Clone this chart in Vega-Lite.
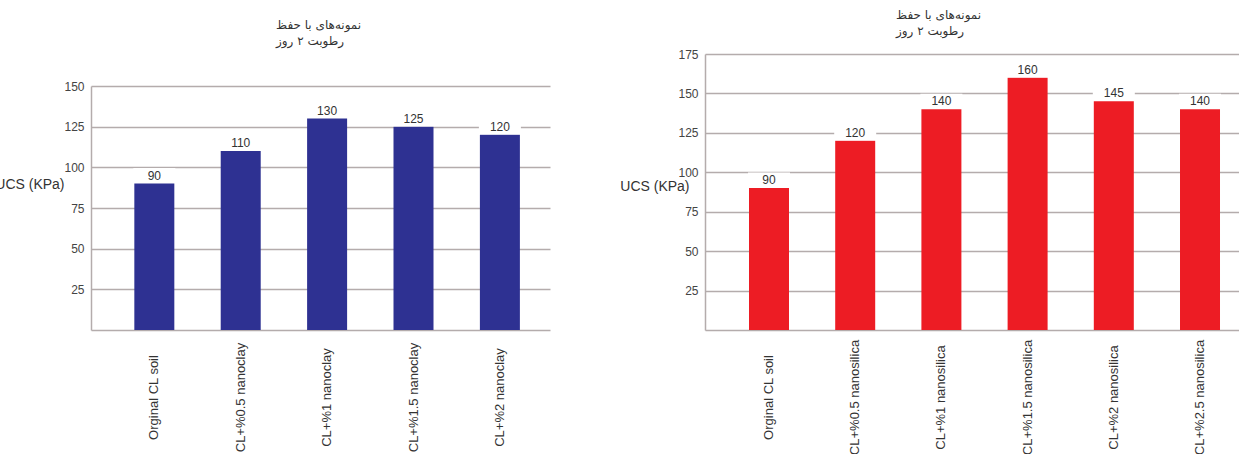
{
  "$schema": "https://vega.github.io/schema/vega-lite/v6.json",
  "background": "white",
  "autosize": {"type": "pad"},
  "padding": {"left": -6, "top": 9, "right": 0, "bottom": 0},
  "spacing": 69,
  "config": {
    "view": {"stroke": null},
    "font": "Liberation Sans",
    "title": {
      "font": "DejaVu Sans",
      "fontSize": 12,
      "fontWeight": "normal",
      "color": "#333333",
      "lineHeight": 16,
      "baseline": "top",
      "anchor": "start",
      "frame": "group",
      "align": "left"
    },
    "axisX": {
      "title": null,
      "labelAngle": 270,
      "labelAlign": "center",
      "labelBaseline": "middle",
      "labelPadding": 67,
      "labelFontSize": 13,
      "labelColor": "#333333",
      "labelOverlap": false,
      "labelLimit": 0,
      "ticks": false,
      "tickSize": 0,
      "domainColor": "#b4acac",
      "domainWidth": 1.5,
      "grid": false
    },
    "axisY": {
      "titleAngle": 0,
      "titleAlign": "right",
      "titleBaseline": "middle",
      "titleFontSize": 14,
      "titleFontWeight": "normal",
      "titleColor": "#333333",
      "labelFontSize": 12,
      "labelColor": "#444444",
      "labelPadding": 7,
      "ticks": false,
      "tickSize": 0,
      "grid": true,
      "gridColor": "#b4acac",
      "gridWidth": 1.5,
      "domainColor": "#b4acac",
      "domainWidth": 1.5
    }
  },
  "datasets": {
    "nanoclay": [
      {"sample": "Orginal CL soil", "ucs": 90},
      {"sample": "CL+%0.5 nanoclay", "ucs": 110},
      {"sample": "CL+%1 nanoclay", "ucs": 130},
      {"sample": "CL+%1.5 nanoclay", "ucs": 125},
      {"sample": "CL+%2 nanoclay", "ucs": 120}
    ],
    "nanosilica": [
      {"sample": "Orginal CL soil", "ucs": 90},
      {"sample": "CL+%0.5 nanosilica", "ucs": 120},
      {"sample": "CL+%1 nanosilica", "ucs": 140},
      {"sample": "CL+%1.5 nanosilica", "ucs": 160},
      {"sample": "CL+%2 nanosilica", "ucs": 145},
      {"sample": "CL+%2.5 nanosilica", "ucs": 140}
    ]
  },
  "hconcat": [
    {
      "title": {"text": ["نمونه‌های با حفظ", "رطوبت ۲ روز"], "dx": 185, "offset": 6},
      "width": 459,
      "height": 276,
      "data": {"name": "nanoclay"},
      "encoding": {
        "x": {
          "field": "sample",
          "type": "nominal",
          "sort": null,
          "scale": {"paddingInner": 0.537, "paddingOuter": 0.425, "align": 0.59}
        },
        "y": {
          "field": "ucs",
          "type": "quantitative",
          "scale": {"domain": [0, 150], "range": [276, 32], "nice": false},
          "axis": {"title": "UCS (KPa)", "values": [25, 50, 75, 100, 125, 150], "titleX": -27, "titleY": 130}
        }
      },
      "layer": [
        {"mark": {"type": "bar", "color": "#2e3192"}},
        {"mark": {"type": "tick", "color": "white", "opacity": 1, "thickness": 15, "size": 42, "yOffset": -8}},
        {
          "mark": {"type": "text", "baseline": "bottom", "dy": -1, "fontSize": 12, "color": "#333333"},
          "encoding": {"text": {"field": "ucs", "type": "quantitative"}}
        }
      ]
    },
    {
      "title": {"text": ["نمونه‌های با حفظ", "رطوبت ۲ روز"], "dx": 191, "offset": 10},
      "width": 536,
      "height": 276,
      "data": {"name": "nanosilica"},
      "encoding": {
        "x": {
          "field": "sample",
          "type": "nominal",
          "sort": null,
          "scale": {"paddingInner": 0.536, "paddingOuter": 0.377, "align": 0.677}
        },
        "y": {
          "field": "ucs",
          "type": "quantitative",
          "scale": {"domain": [0, 175], "nice": false},
          "axis": {"title": "UCS (KPa)", "values": [25, 50, 75, 100, 125, 150, 175], "titleX": -16, "titleY": 132}
        }
      },
      "layer": [
        {"mark": {"type": "bar", "color": "#ed1c24"}},
        {"mark": {"type": "tick", "color": "white", "opacity": 1, "thickness": 15, "size": 42, "yOffset": -8}},
        {
          "mark": {"type": "text", "baseline": "bottom", "dy": -1, "fontSize": 12, "color": "#333333"},
          "encoding": {"text": {"field": "ucs", "type": "quantitative"}}
        }
      ]
    }
  ]
}
